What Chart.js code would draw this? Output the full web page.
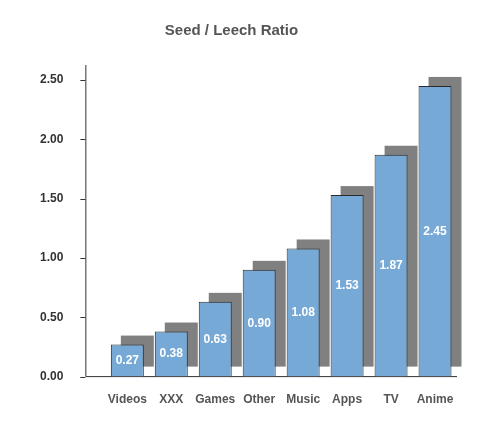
<!DOCTYPE html>
<html><head><meta charset="utf-8">
<script src="https://cdn.jsdelivr.net/npm/chart.js@4"></script>
<style>body{margin:0;background:#fff}#wrap{width:503px;height:445px}</style>
</head><body><div id="wrap"><canvas id="myChart"></canvas></div>
<script>
let labels = ['Videos','XXX','Games','Other','Music','Apps','TV','Anime'];
let ratios = [0.27,0.38,0.63,0.90,1.08,1.53,1.87,2.45];
let yTicks = [0,0.5,1,1.5,2,2.5];

// gray drop shadow behind bars, plus custom y axis line
let extras = {
  id:'extras',
  beforeDatasetsDraw(chart){
    let c = chart.ctx, meta = chart.getDatasetMeta(0), bottom = chart.chartArea.bottom;
    c.save();
    c.fillStyle = '#808080';
    meta.data.forEach(b=>{
      c.fillRect(b.x - b.width/2 + 10, b.y - 9, b.width, bottom - 10 - (b.y - 9));
    });
    let ax = chart.chartArea.left - 20, ys = chart.scales.y;
    c.strokeStyle = '#333'; c.lineWidth = 1;
    c.beginPath();
    c.moveTo(ax+0.5, chart.chartArea.top - 15); c.lineTo(ax+0.5, bottom);
    c.lineTo(chart.chartArea.right, bottom);
    yTicks.forEach(t=>{ let y = Math.round(ys.getPixelForValue(t))+0.5; c.moveTo(ax-5,y); c.lineTo(ax,y); });
    c.stroke();
    c.restore();
  },
  afterDatasetsDraw(chart){
    let c = chart.ctx, meta = chart.getDatasetMeta(0), bottom = chart.chartArea.bottom;
    c.save();
    c.fillStyle = '#fff'; c.font = 'bold 12px "Liberation Sans", Arial';
    c.textAlign = 'center'; c.textBaseline = 'middle';
    meta.data.forEach((b,i)=>c.fillText(ratios[i].toFixed(2), b.x, (b.y + bottom)/2));
    c.restore();
  }
};

new Chart(document.getElementById('myChart'),{
  type:'bar',
  data:{labels:labels, datasets:[{data:ratios, backgroundColor:'#77a9d6', borderColor:'#2a2a2a', borderWidth:1, barPercentage:0.75, categoryPercentage:1}]},
  options:{
    responsive:true, maintainAspectRatio:false, animation:false,
    layout:{padding:{top:0,right:46,bottom:30,left:6}},
    plugins:{
      legend:{display:false}, tooltip:{enabled:false},
      title:{display:true, text:'Seed / Leech Ratio', color:'#555', font:{family:'"Liberation Sans", Arial', size:15, weight:'bold'}, padding:{top:22,bottom:40}}
    },
    scales:{
      y:{min:0, max:2.5, border:{display:false}, grid:{display:false},
         afterBuildTicks(s){ s.ticks = yTicks.map(v=>({value:v})); },
         ticks:{padding:34, color:'#333', font:{family:'"Liberation Sans", Arial', size:12, weight:'bold'}, callback:v=>v.toFixed(2)}},
      x:{border:{display:false}, grid:{display:false},
         ticks:{padding:8, maxRotation:0, minRotation:0, autoSkip:false, color:'#555', font:{family:'"Liberation Sans", Arial', size:12, weight:'bold'}}}
    }
  },
  plugins:[extras]
});
</script></body></html>
